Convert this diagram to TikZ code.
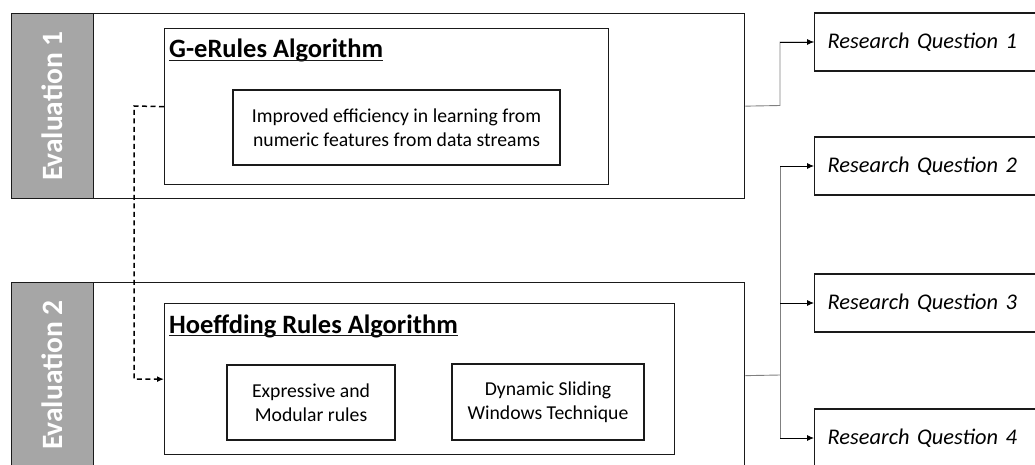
\documentclass[tikz,border=0pt]{standalone}
\usepackage{fontspec}
\setmainfont{Carlito}
\usetikzlibrary{arrows.meta}
\definecolor{bargray}{HTML}{A6A6A6}
\definecolor{edge}{HTML}{1A1A1A}
\definecolor{wire}{HTML}{808080}
\tikzset{
  box/.style={draw=edge, line width=1.3pt, anchor=north west, inner sep=0pt},
  bar/.style={box, fill=bargray},
  evtext/.style={text=white, rotate=90, font=\fontsize{29.5}{33}\selectfont\bfseries},
  title/.style={anchor=base west, inner sep=0pt, font=\fontsize{26.5}{30}\selectfont\bfseries},
  uline/.style={draw=edge, line width=1.3pt},
  inbox/.style={draw=edge, line width=1.3pt, align=center, inner sep=0pt,
                font=\fontsize{19.7}{23.5}\selectfont},
  rq/.style={draw=edge, line width=1.3pt, anchor=west, minimum height=58pt,
             text width=200pt, inner xsep=13pt, align=left,
             font=\fontsize{22.4}{26}\selectfont\itshape},
  wirestyle/.style={draw=wire, line width=0.9pt},
  arr/.style={draw=black, line width=0.9pt, -{Latex[length=7pt,width=6pt]}},
  link/.style={draw=black, line width=1.5pt, dash pattern=on 5pt off 3.5pt,
               -{Latex[length=7pt,width=6pt]}}
}
\begin{document}
\begin{tikzpicture}[x=1pt,y=-1pt]
\useasboundingbox (0,0) rectangle (1035,465);

% Evaluation 1 panel
\node[box, minimum width=733pt, minimum height=185pt] (ev1) at (11,13) {};
\node[bar, minimum width=82pt, minimum height=185pt] (bar1) at (11,13) {};
\node[evtext] (ev1t) at (bar1.center) {Evaluation 1};

\node[box, minimum width=444pt, minimum height=156pt] (ger) at (164,28) {};
\node[title] (gert) at (169,58) {G-eRules Algorithm};
\draw[uline] ([yshift=-2.5pt]gert.base west) -- ([yshift=-2.5pt]gert.base east);
\node[inbox, minimum width=327pt, minimum height=75pt] (eff) at (396.5,127.5)
  {Improved efficiency in learning from\\numeric features from data streams};

% Evaluation 2 panel
\node[box, minimum width=733pt, minimum height=186pt] (ev2) at (11,282) {};
\node[bar, minimum width=82pt, minimum height=186pt] (bar2) at (11,282) {};
\node[evtext] (ev2t) at (52,375) {Evaluation 2};

\node[box, minimum width=510pt, minimum height=151pt] (hoef) at (164,303) {};
\node[title] (hoeft) at (169,333) {Hoeffding Rules Algorithm};
\draw[uline] ([yshift=-2.5pt]hoeft.base west) -- ([yshift=-2.5pt]hoeft.base east);
\node[inbox, minimum width=168pt, minimum height=75pt] (expr) at (311,402.5)
  {Expressive and\\Modular rules};
\node[inbox, minimum width=192pt, minimum height=76pt] (dyn) at (548,402)
  {Dynamic Sliding\\Windows Technique};

% Research questions
\node[rq] (rq1) at (814,42) {Research Question 1};
\node[rq] (rq2) at (814,166) {Research Question 2};
\node[rq] (rq3) at (814,303) {Research Question 3};
\node[rq] (rq4) at (814,438) {Research Question 4};

% Connectors
\coordinate (j1) at (780,105.5);
\coordinate (j2) at (780,375);
\draw[wirestyle] (ev1.east) -- (j1) |- (rq1.west);
\draw[arr] (j1 |- rq1.west) -- (rq1.west);
\draw[wirestyle] (ev2.east) -- (j2);
\draw[wirestyle] (j2 |- rq2.west) -- (j2 |- rq4.west);
\draw[arr] (j2 |- rq2.west) -- (rq2.west);
\draw[arr] (j2 |- rq3.west) -- (rq3.west);
\draw[arr] (j2 |- rq4.west) -- (rq4.west);

% Link from G-eRules to Hoeffding Rules
\coordinate (d1) at (134,106);
\draw[link] (ger.west) -- (d1) |- (hoef.west);
\end{tikzpicture}
\end{document}
